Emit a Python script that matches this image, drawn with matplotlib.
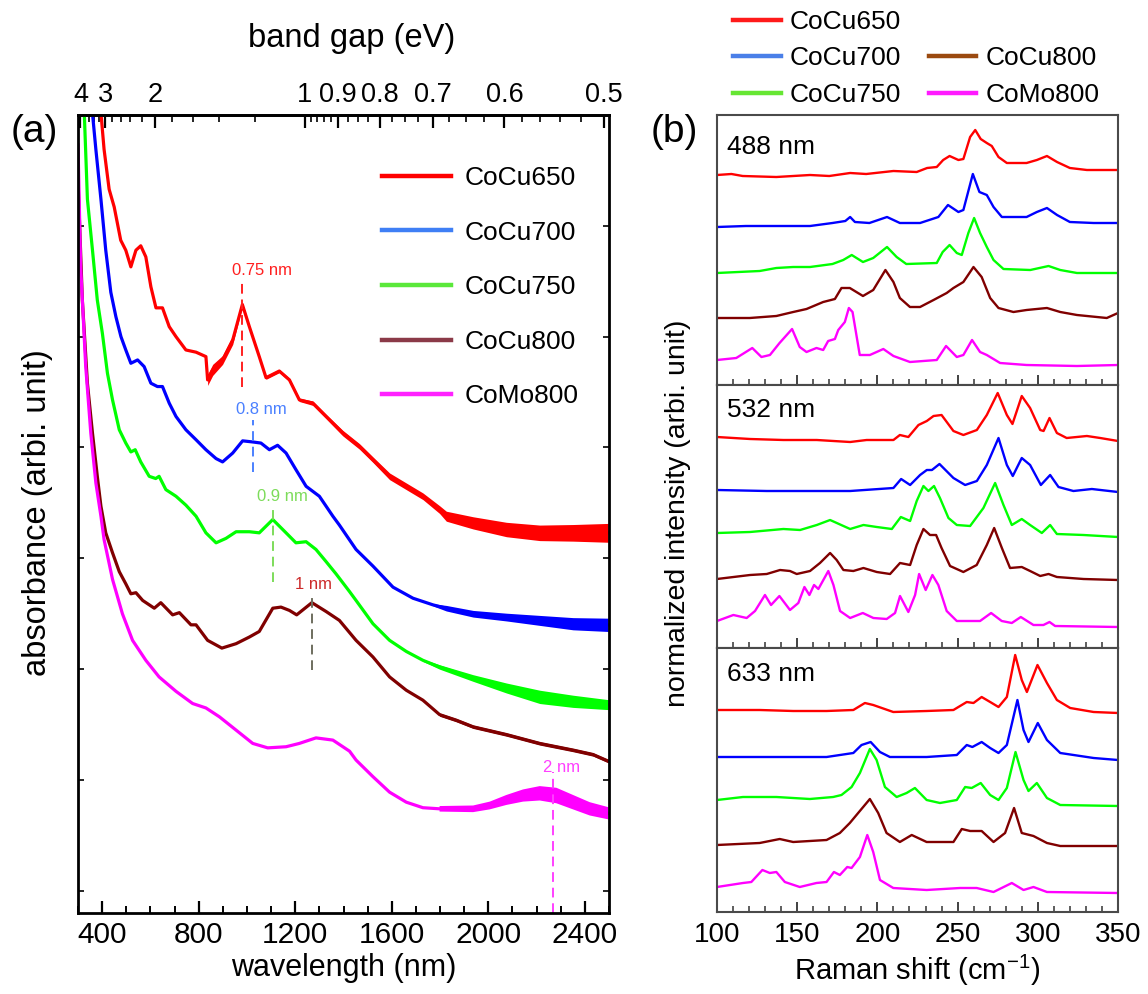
import numpy as np
import matplotlib
matplotlib.use('Agg')
import matplotlib.pyplot as plt
from matplotlib.lines import Line2D
from matplotlib.ticker import MultipleLocator, FixedLocator, NullFormatter

plt.rcParams['font.family'] = ['Liberation Sans', 'DejaVu Sans']
plt.rcParams['mathtext.fontset'] = 'custom'
plt.rcParams['mathtext.rm'] = 'Liberation Sans'
plt.rcParams['mathtext.it'] = 'Liberation Sans:italic'

# ---------------- data: panel (a) absorbance ----------------
samples = ['CoCu650', 'CoCu700', 'CoCu750', 'CoCu800', 'CoMo800']

wl_cocu650 = [380, 408, 429, 450, 477, 498, 519, 540, 560, 581, 602, 623, 650, 678, 706, 747, 789, 830, 837, 858,
              899, 941, 981, 1010, 1051, 1079, 1134, 1176, 1217, 1273, 1328, 1397, 1466, 1522, 1591, 1660, 1729,
              1798, 1826, 1937, 2075, 2213, 2351, 2497]
abs_cocu650 = [7.4, 6.69, 6.33, 6.17, 5.87, 5.78, 5.63, 5.78, 5.82, 5.72, 5.45, 5.26, 5.26, 5.09, 5.00, 4.88, 4.86,
               4.82, 4.61, 4.70, 4.79, 4.97, 5.29, 5.09, 4.82, 4.63, 4.69, 4.61, 4.43, 4.40, 4.28, 4.13, 4.01, 3.89,
               3.74, 3.65, 3.56, 3.44, 3.38, 3.32, 3.26, 3.23, 3.23, 3.23]
noise_cocu650 = [0] * 18 + [0.05, 0.05, 0.04, 0.04, 0.02, 0.015, 0.015, 0.015, 0.015, 0.015, 0.015, 0.02, 0.02,
                            0.025, 0.025, 0.025, 0.03, 0.03, 0.03, 0.035, 0.045, 0.055, 0.065, 0.07, 0.075, 0.085]

wl_cocu700 = [352, 374, 395, 415, 436, 457, 478, 498, 519, 547, 574, 602, 629, 650, 678, 706, 747, 789, 830, 872,
              899, 941, 982, 1024, 1058, 1093, 1127, 1162, 1203, 1245, 1300, 1356, 1383, 1452, 1522, 1605, 1688,
              1771, 1826, 1937, 2075, 2213, 2351, 2497]
abs_cocu700 = [7.2, 6.69, 6.24, 5.78, 5.40, 5.18, 5.00, 4.88, 4.76, 4.79, 4.73, 4.58, 4.55, 4.55, 4.40, 4.28, 4.16,
               4.07, 3.98, 3.90, 3.87, 3.95, 4.06, 4.05, 4.04, 3.98, 4.02, 3.95, 3.80, 3.65, 3.56, 3.38, 3.30, 3.08,
               2.93, 2.74, 2.64, 2.58, 2.55, 2.50, 2.47, 2.44, 2.41, 2.40]
noise_cocu700 = [0] * 37 + [0.01, 0.025, 0.03, 0.035, 0.045, 0.055, 0.06]

wl_cocu750 = [323, 339, 360, 380, 401, 422, 443, 471, 498, 519, 537, 560, 595, 622, 636, 664, 706, 747, 789, 830,
              872, 913, 955, 1010, 1051, 1107, 1162, 1203, 1245, 1286, 1328, 1369, 1425, 1452, 1522, 1591, 1660,
              1729, 1798, 1937, 2075, 2213, 2351, 2497]
abs_cocu750 = [7.2, 6.24, 5.78, 5.33, 5.03, 4.67, 4.43, 4.16, 4.04, 3.96, 3.98, 3.87, 3.74, 3.72, 3.74, 3.62, 3.56,
               3.48, 3.38, 3.23, 3.14, 3.18, 3.24, 3.24, 3.23, 3.35, 3.23, 3.14, 3.15, 3.08, 2.97, 2.86, 2.70, 2.62,
               2.41, 2.26, 2.16, 2.08, 2.02, 1.92, 1.83, 1.75, 1.71, 1.68]
noise_cocu750 = [0] * 37 + [0.01, 0.02, 0.03, 0.045, 0.06, 0.055, 0.045]

wl_cocu800 = [300, 318, 339, 360, 380, 395, 415, 443, 471, 498, 519, 540, 568, 616, 643, 692, 720, 768, 789, 837,
              896, 955, 1010, 1051, 1107, 1141, 1176, 1206, 1269, 1328, 1383, 1452, 1522, 1591, 1660, 1729, 1798,
              1867, 1937, 2075, 2213, 2351, 2434, 2497]
abs_cocu800 = [6.42, 5.33, 4.58, 4.13, 3.74, 3.47, 3.23, 3.05, 2.88, 2.77, 2.68, 2.69, 2.62, 2.55, 2.60, 2.49, 2.51,
               2.40, 2.40, 2.26, 2.19, 2.23, 2.29, 2.34, 2.55, 2.56, 2.53, 2.49, 2.60, 2.52, 2.44, 2.26, 2.11, 1.93,
               1.81, 1.72, 1.59, 1.54, 1.48, 1.41, 1.33, 1.27, 1.23, 1.17]
noise_cocu800 = [0] * 36 + [0.015] * 8

wl_como800 = [300, 311, 332, 353, 374, 395, 408, 443, 484, 526, 581, 636, 706, 775, 830, 886, 955, 1024, 1086, 1162,
              1217, 1286, 1356, 1425, 1452, 1522, 1591, 1660, 1729, 1798, 1937, 2006, 2075, 2144, 2213, 2282, 2351,
              2420, 2497]
abs_como800 = [6.73, 5.63, 4.73, 4.13, 3.68, 3.38, 3.17, 2.81, 2.50, 2.26, 2.08, 1.93, 1.80, 1.69, 1.65, 1.57, 1.45,
               1.33, 1.29, 1.30, 1.33, 1.38, 1.36, 1.26, 1.18, 1.03, 0.89, 0.80, 0.75, 0.74, 0.74, 0.77, 0.82, 0.86,
               0.88, 0.86, 0.80, 0.74, 0.70]
noise_como800 = [0] * 14 + [0.02] + [0] * 14 + [0.025, 0.03, 0.035, 0.045, 0.055, 0.065, 0.07, 0.065, 0.06, 0.055]

# peak annotations (diameter labels)
peak_labels = ['0.75 nm', '0.8 nm', '0.9 nm', '1 nm', '2 nm']
peak_wl = [981, 1027, 1107, 1269, 2266]
peak_line_lo = [4.55, 3.78, 2.79, 1.99, -0.2]
peak_line_hi = [5.51, 4.25, 3.47, 2.67, 1.07]
peak_text_x = [1064, 1058, 1146, 1276, 2303]
peak_text_y = [5.60, 4.34, 3.56, 2.76, 1.11]

bandgap_ticks = [4, 3, 2, 1, 0.9, 0.8, 0.7, 0.6, 0.5]
bandgap_labels = ['4', '3', '2', '1', '0.9', '0.8', '0.7', '0.6', '0.5']
bandgap_minor = [3.8, 3.6, 3.4, 3.2, 2.8, 2.6, 2.4, 2.2, 1.8, 1.6, 1.4, 1.2,
                 0.98, 0.96, 0.94, 0.92, 0.875, 0.85, 0.825, 0.775, 0.75, 0.725,
                 0.675, 0.65, 0.625, 0.58, 0.56, 0.54, 0.52]

# ---------------- data: panel (b) Raman ----------------
lasers = ['488 nm', '532 nm', '633 nm']

x488_cocu650 = [100, 109, 116, 137, 158, 170, 183, 193, 210, 224.5, 231, 237, 241, 245, 250.5, 253.6, 257.8, 261,
                264.4, 268.2, 271.3, 275.5, 280.7, 293, 299.4, 305.7, 312, 320, 330.6, 350]
y488_cocu650 = [21.0, 21.1, 20.9, 20.8, 21.0, 20.9, 21.2, 21.1, 21.4, 21.3, 21.7, 21.8, 22.5, 22.9, 22.5, 22.6,
                24.8, 25.5, 24.6, 24.2, 23.9, 22.8, 22.2, 22.2, 22.5, 22.9, 22.3, 21.7, 21.5, 21.5]
x488_cocu700 = [100, 118, 137, 158, 172, 180, 183, 186, 195, 206, 214, 226.6, 238, 244, 250.5, 253.6, 259.5, 263.6,
                268.2, 272.4, 277.6, 293, 299.4, 305.7, 312, 320, 334.8, 350]
y488_cocu700 = [15.8, 15.9, 15.9, 15.9, 16.2, 16.4, 16.8, 16.3, 16.2, 16.8, 16.2, 16.2, 16.8, 18.0, 17.3, 17.5,
                21.1, 19.3, 19.0, 17.8, 16.8, 16.8, 17.3, 17.7, 17.0, 16.3, 16.2, 16.2]
x488_cocu750 = [100, 126.6, 137, 147.5, 158, 172, 178.7, 184, 191, 197.4, 206, 212, 218, 237, 240.7, 245, 249.5,
                252.6, 256.7, 260.3, 264, 268.2, 272.4, 278.6, 295.3, 306.7, 314, 324.4, 350]
y488_cocu750 = [11.2, 11.4, 11.7, 11.8, 11.8, 12.1, 12.5, 13.0, 12.3, 12.7, 13.8, 12.8, 12.1, 12.2, 13.3, 14.0,
                13.2, 13.0, 15.2, 16.7, 15.2, 13.8, 12.5, 11.6, 11.5, 11.9, 11.5, 11.2, 11.2]
x488_cocu800 = [100, 120.4, 137, 147.5, 155.8, 166.2, 173.5, 177.6, 182.8, 191, 197.4, 205, 210, 214, 220.3, 226.6,
                235, 243.2, 247.4, 253.6, 259.9, 265, 270.3, 275.5, 284.8, 293, 305.7, 314, 324.4, 343, 350]
y488_cocu800 = [6.7, 6.7, 6.9, 7.3, 7.6, 8.3, 8.6, 9.7, 9.7, 8.9, 9.5, 11.5, 10.3, 8.7, 7.8, 7.8, 8.5, 9.2, 9.7,
                10.3, 11.8, 10.8, 8.7, 7.7, 7.3, 7.5, 7.7, 7.3, 7.0, 6.7, 7.2]
x488_como800 = [100, 112, 122, 127.7, 133, 139, 146.8, 151.6, 155.8, 162, 166.2, 169.3, 173.5, 175.6, 179.7, 182.2,
                184.5, 189, 195.3, 203.7, 210, 220.3, 237, 242.8, 249.5, 253.6, 259, 264, 268.2, 276.5, 293, 324.4,
                350]
y488_como800 = [2.5, 2.7, 3.7, 2.8, 3.0, 4.2, 5.6, 3.8, 3.3, 3.7, 3.5, 4.4, 4.6, 5.5, 6.3, 7.7, 7.3, 3.0, 3.0, 3.6,
                2.9, 2.3, 2.5, 3.9, 2.8, 3.0, 4.5, 3.3, 3.0, 2.2, 2.0, 1.9, 2.0]

x532_cocu650 = [100, 120.6, 141.4, 162.2, 183, 193.3, 210, 214, 219.3, 225.6, 230.8, 235, 240, 247.4, 253.6, 262,
                268.2, 275, 280.7, 284.2, 290, 295.2, 301.5, 303.6, 307.3, 311.9, 318, 330.6, 338.9, 350]
y532_cocu650 = [21.1, 20.9, 20.8, 20.8, 20.6, 20.8, 20.8, 21.3, 21.1, 22.3, 22.7, 23.2, 23.3, 21.7, 21.3, 21.8,
                23.3, 25.5, 23.3, 22.4, 25.2, 24.0, 21.8, 21.7, 23.0, 21.5, 21.0, 21.2, 21.0, 20.7]
x532_cocu700 = [100, 131, 162.2, 183, 210, 214.8, 220.4, 226.6, 230.8, 234, 238.7, 247.4, 254.7, 262, 268.2, 275.5,
                280.7, 284.4, 290, 295.2, 301.9, 307.7, 312.9, 322.2, 333.7, 350]
y532_cocu700 = [15.8, 15.7, 15.7, 15.7, 16.0, 16.9, 16.3, 17.3, 17.8, 17.8, 18.4, 17.0, 16.3, 16.7, 18.3, 21.0,
                18.3, 17.2, 19.0, 18.3, 16.3, 17.3, 16.1, 15.7, 15.9, 15.6]
x532_cocu750 = [100, 120.6, 141.4, 151.8, 162.2, 170.5, 183, 191.3, 199.6, 209, 214.6, 220.4, 224.5, 228.7, 231.8,
                235.3, 239, 244.3, 249.5, 257.8, 266.1, 273.4, 278.6, 283.8, 290, 295.2, 302.5, 307.7, 311.9, 328.5,
                350]
y532_cocu750 = [11.5, 11.6, 11.9, 11.8, 12.3, 12.8, 11.9, 12.3, 12.1, 11.9, 13.1, 12.7, 14.7, 16.2, 15.7, 16.2,
                15.0, 13.0, 12.3, 12.2, 14.0, 16.5, 14.3, 12.3, 12.9, 12.3, 11.5, 12.3, 11.4, 11.3, 11.1]
x532_cocu800 = [100, 120.6, 131, 139.3, 145.5, 149.7, 158, 164.2, 170.5, 174.6, 178.8, 185, 191.3, 199.6, 207.9,
                214.1, 220.4, 224.5, 228.7, 232.8, 236.6, 240, 245.3, 253.6, 261.9, 268.2, 272.8, 277.6, 282.7, 290,
                295.2, 301.5, 306.7, 311.9, 328.5, 350]
y532_cocu800 = [6.9, 7.3, 7.4, 7.8, 7.7, 7.4, 7.7, 8.5, 9.5, 8.8, 7.8, 7.7, 8.0, 7.6, 7.4, 8.5, 8.3, 10.3, 11.9,
                11.3, 11.3, 10.0, 8.2, 7.6, 8.3, 10.3, 12.0, 10.0, 8.0, 8.1, 7.7, 7.2, 7.4, 7.1, 6.9, 6.8]
x532_como800 = [100, 110.2, 118.5, 123.7, 129.9, 133.7, 138.9, 145.5, 150.7, 154.5, 157.6, 160.5, 163.2, 166.3,
                169.4, 172.6, 176.7, 183, 190.9, 197.5, 205.8, 211, 214.1, 219.3, 223.5, 226, 230.1, 234.3, 238,
                243.2, 249.5, 264, 270.9, 277.5, 283.8, 289.4, 297.3, 303.5, 307.3, 310.8, 350]
y532_como800 = [2.7, 3.3, 3.0, 3.7, 5.3, 4.3, 5.2, 3.8, 4.5, 6.1, 5.3, 6.3, 5.9, 6.8, 7.7, 6.3, 3.7, 3.0, 3.5, 3.0,
                2.9, 3.5, 5.2, 3.6, 5.3, 7.4, 5.8, 7.3, 6.3, 3.7, 2.7, 2.7, 3.5, 2.7, 2.5, 3.1, 2.3, 2.3, 2.6, 2.2,
                2.1]

x633_cocu650 = [100, 126.6, 147.5, 168.3, 185, 192.2, 197.4, 209.9, 230.7, 247.4, 255.7, 259.9, 265, 270.3, 275.5,
                280.7, 285.9, 290, 293.2, 299.8, 305.7, 311.9, 320.2, 334.8, 350]
y633_cocu650 = [20.2, 20.2, 20.1, 20.1, 20.2, 20.9, 20.7, 20.0, 20.1, 20.2, 21.0, 20.9, 21.5, 21.0, 20.5, 21.5,
                25.7, 23.2, 22.0, 24.7, 22.9, 21.2, 20.4, 20.0, 19.9]
x633_cocu700 = [100, 126.6, 147.5, 168.3, 185, 190.1, 195.8, 201.6, 207.8, 230.7, 249.5, 255.7, 259.2, 265, 270.3,
                275.5, 280.7, 287.3, 291.1, 294.2, 300, 305.7, 314, 334.8, 350]
y633_cocu700 = [15.5, 15.5, 15.5, 15.5, 15.9, 16.7, 17.0, 16.0, 15.5, 15.5, 15.7, 16.7, 16.5, 17.0, 16.4, 15.9,
                16.7, 21.2, 18.2, 17.0, 18.9, 17.2, 15.9, 15.4, 15.2]
x633_cocu750 = [100, 116.2, 137, 157.9, 172.4, 177.6, 183.9, 189.1, 195.3, 199.5, 204.7, 212, 218.2, 223.4, 230.7,
                239, 249.5, 254.7, 258.8, 264.4, 270.3, 275.5, 280.7, 286.1, 291.1, 294.2, 299.4, 305.7, 314, 350]
y633_cocu750 = [11.2, 11.5, 11.5, 11.3, 11.5, 11.7, 12.5, 13.9, 16.3, 15.2, 12.5, 11.5, 11.9, 12.4, 11.2, 10.9,
                11.2, 12.5, 12.4, 12.9, 11.7, 11.2, 12.4, 16.0, 13.2, 12.1, 12.9, 11.4, 10.7, 10.6]
x633_cocu800 = [100, 126.6, 139.1, 147.5, 168.3, 176.6, 182.8, 188, 195.3, 200.5, 205.7, 214, 221.4, 230.7, 247.4,
                252.6, 257.8, 265, 272.4, 279.6, 285.2, 290, 297.3, 305.7, 314, 350]
y633_cocu800 = [6.7, 6.9, 7.3, 7.0, 7.2, 7.9, 8.9, 9.9, 11.3, 9.9, 7.9, 7.0, 7.7, 7.0, 7.0, 8.3, 8.1, 8.1, 7.0, 7.9,
                10.4, 7.9, 7.6, 6.9, 6.6, 6.6]
x633_como800 = [100, 116.2, 121.4, 128.3, 132.9, 137, 142.3, 151.6, 162, 168.3, 172.9, 176.6, 181.2, 183.9, 189.1,
                193.7, 197.4, 201.6, 209.9, 230.7, 251.5, 261.9, 272.4, 283.8, 291.1, 297.3, 305.7, 350]
y633_como800 = [2.5, 2.9, 3.0, 4.2, 3.9, 4.0, 3.0, 2.5, 2.9, 3.0, 4.0, 3.7, 4.5, 4.4, 5.5, 7.7, 6.0, 3.2, 2.4, 2.2,
                2.4, 2.4, 2.0, 2.9, 2.2, 2.5, 2.0, 1.9]

raman_x = [[x488_cocu650, x488_cocu700, x488_cocu750, x488_cocu800, x488_como800],
           [x532_cocu650, x532_cocu700, x532_cocu750, x532_cocu800, x532_como800],
           [x633_cocu650, x633_cocu700, x633_cocu750, x633_cocu800, x633_como800]]
raman_y = [[y488_cocu650, y488_cocu700, y488_cocu750, y488_cocu800, y488_como800],
           [y532_cocu650, y532_cocu700, y532_cocu750, y532_cocu800, y532_como800],
           [y633_cocu650, y633_cocu700, y633_cocu750, y633_cocu800, y633_como800]]

# ---------------- styles ----------------
curve_colors = ['#ff0000', '#0000ff', '#00ff00', '#800000', '#ff00ff']
legend_a_colors = ['#ff0000', '#3f7ff5', '#5ae83a', '#8b3a48', '#ff22ff']
legend_b_colors = ['#ff1a1a', '#4a7fe8', '#66e633', '#9b4a10', '#ff1aff']
peak_text_colors = ['#ff2020', '#4a80ff', '#7ddc5a', '#cc2a2a', '#ff40ff']
peak_line_colors = ['#ff2020', '#4a80ff', '#7ddc5a', '#6e6e5e', '#ff40ff']

W, H = 1148, 994
fig = plt.figure(figsize=(W / 100, H / 100), dpi=100)


def px_axes(l, t, r, b):
    return fig.add_axes([l / W, 1 - b / H, (r - l) / W, (b - t) / H])


# ---------------- panel (a) ----------------
ax = px_axes(78, 115, 609, 913)
abs_sets = [(wl_cocu650, abs_cocu650, noise_cocu650), (wl_cocu700, abs_cocu700, noise_cocu700),
            (wl_cocu750, abs_cocu750, noise_cocu750), (wl_cocu800, abs_cocu800, noise_cocu800),
            (wl_como800, abs_como800, noise_como800)]
for (xw, ya, nz), c in zip(abs_sets, curve_colors):
    xw = np.array(xw, float)
    ya = np.array(ya, float)
    nz = np.array(nz, float)
    ax.fill_between(xw, ya - nz, ya + nz, color=c, lw=0, where=nz > 0, interpolate=False)
    ax.plot(xw, ya, color=c, lw=2.3, solid_joinstyle='round')

for lab, xw, lo, hi, tx, ty, tc, lc in zip(peak_labels, peak_wl, peak_line_lo, peak_line_hi,
                                          peak_text_x, peak_text_y, peak_text_colors, peak_line_colors):
    ax.plot([xw, xw], [lo, hi], color=lc, lw=1.4, dashes=(5, 3))
    ax.text(tx, ty, lab, color=tc, fontsize=12, ha='center', va='center')

ax.set_xlim(300, 2500)
ax.set_ylim(-0.2, 7.0)
ax.xaxis.set_major_locator(FixedLocator([400, 800, 1200, 1600, 2000, 2400]))
ax.xaxis.set_minor_locator(MultipleLocator(100))
ax.yaxis.set_major_locator(FixedLocator([0, 1, 2, 3, 4, 5, 6]))
ax.yaxis.set_major_formatter(NullFormatter())
ax.tick_params(axis='x', which='major', direction='in', length=9, width=1.6, top=False,
               labelsize=21.5, pad=6)
ax.tick_params(axis='x', which='minor', direction='in', length=5, width=1.4, top=False)
ax.tick_params(axis='y', which='major', direction='in', length=4, width=1.2, left=True, right=True)
for s in ax.spines.values():
    s.set_linewidth(2.0)
    s.set_color('black')


def nm2ev(x):
    x = np.asarray(x, dtype=float)
    with np.errstate(divide='ignore', invalid='ignore'):
        return 1240.0 / x


sec = ax.secondary_xaxis('top', functions=(nm2ev, nm2ev))
sec.set_xticks(bandgap_ticks)
sec.set_xticklabels(bandgap_labels)
sec.xaxis.set_minor_locator(FixedLocator(bandgap_minor))
sec.tick_params(axis='x', which='major', direction='in', length=9, width=1.6, labelsize=19.5, pad=5)
sec.tick_params(axis='x', which='minor', direction='in', length=5, width=1.2)
sec.spines['top'].set_linewidth(2.0)

handles_a = [Line2D([], [], color=c, lw=3.2) for c in legend_a_colors]
ax.legend(handles_a, samples, loc='upper left', bbox_to_anchor=(382 / W, 1 - 166 / H),
          bbox_transform=fig.transFigure, frameon=False, fontsize=19, handlelength=2.6,
          handletextpad=0.55, labelspacing=1.16, borderpad=0, borderaxespad=0)

fig.text(344 / W, 1 - 968 / H, 'wavelength (nm)', fontsize=22, ha='center', va='center')
fig.text(352 / W, 1 - 38 / H, 'band gap (eV)', fontsize=23.5, ha='center', va='center')
fig.text(38 / W, 1 - 513 / H, 'absorbance (arbi. unit)', fontsize=23.5, ha='center', va='center',
         rotation=90)
fig.text(34 / W, 1 - 132 / H, '(a)', fontsize=28, ha='center', va='center')

# ---------------- panel (b) ----------------
panel_px = [(115, 385), (385, 648), (648, 912)]
label_y = [0.88, 0.905, 0.90]
raman_axes = []
for i, (top, bot) in enumerate(panel_px):
    axb = px_axes(717, top, 1118, bot)
    raman_axes.append(axb)
    for xs, ys, c in zip(raman_x[i], raman_y[i], curve_colors):
        axb.plot(xs, ys, color=c, lw=1.7, solid_joinstyle='round')
    axb.set_xlim(100, 350)
    axb.set_ylim(0, (bot - top) / 10.0)
    axb.set_yticks([])
    axb.xaxis.set_major_locator(MultipleLocator(50))
    axb.xaxis.set_minor_locator(MultipleLocator(10))
    axb.tick_params(axis='x', which='major', direction='in', length=7, width=1.3, top=False,
                    labelsize=20, pad=7, labelbottom=(i == 2), colors='#333333', labelcolor='black')
    axb.tick_params(axis='x', which='minor', direction='in', length=4, width=1.1, top=False,
                    colors='#333333')
    for s in axb.spines.values():
        s.set_linewidth(1.5)
        s.set_color('#4a4a4a')
    axb.text(0.025, label_y[i], lasers[i], transform=axb.transAxes, fontsize=19, ha='left',
             va='center')

handles_b = [Line2D([], [], color=c, lw=3.2) for c in legend_b_colors]
blank = Line2D([], [], color='none')
order_h = [handles_b[0], handles_b[1], handles_b[2], blank, handles_b[3], handles_b[4]]
order_l = [samples[0], samples[1], samples[2], '', samples[3], samples[4]]
raman_axes[0].legend(order_h, order_l, ncol=2, loc='upper left', bbox_to_anchor=(733 / W, 1 - 10 / H),
                     bbox_transform=fig.transFigure, frameon=False, fontsize=19, handlelength=1.8,
                     handletextpad=0.35, labelspacing=0.47, columnspacing=1.05, borderpad=0,
                     borderaxespad=0)

fig.text(917 / W, 1 - 970 / H, 'Raman shift (cm$^{-1}$)', fontsize=21, ha='center', va='center')
fig.text(678 / W, 1 - 513 / H, 'normalized intensity (arbi. unit)', fontsize=20.5, ha='center',
         va='center', rotation=90)
fig.text(674 / W, 1 - 132 / H, '(b)', fontsize=28, ha='center', va='center')

fig.savefig('out.png', dpi=100)
